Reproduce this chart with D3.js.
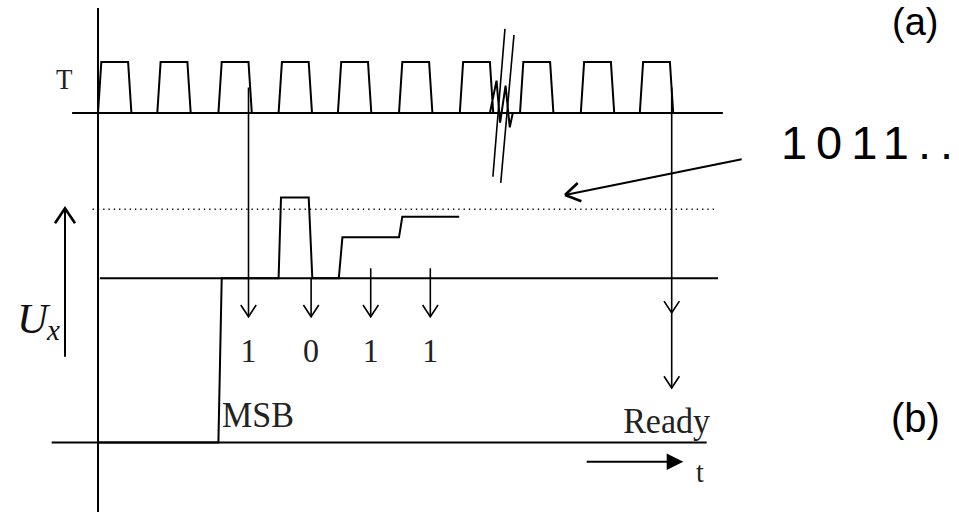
<!DOCTYPE html>
<html>
<head>
<meta charset="UTF-8">
<title>SAR timing</title>
<script src="https://cdn.jsdelivr.net/npm/d3@7/dist/d3.min.js"></script>
<style>
  body { margin: 0; background: #fff; }
  svg { display: block; }
</style>
</head>
<body>
<svg width="959" height="512"></svg>
<script>
// clock pulse start times (in clock periods) and shape of one pulse
var clockStarts = [0, 0.985, 2, 3, 3.985, 5, 6.01, 7.01, 8.02, 9];
var pulseShape = [[0, 0], [0.055, 1], [0.5, 1], [0.555, 0]];
// squiggle at the time break
var breakWave = [[6.51, 0], [6.62, 0.635], [6.68, -0.19], [6.77, 0.535], [6.84, -0.28], [6.89, 0]];
var breakSlashes = [[[6.56, -1.25], [6.76, 1.65]], [[6.69, -1.37], [6.91, 1.53]]];

// comparator / DAC output (t, U)
var dacTrace = [[0, -2.38], [2.0, -2.38], [2.055, 0], [3.0, 0], [3.04, 1.17], [3.5, 1.17], [3.56, 0],
                [4.0, 0], [4.06, 0.594], [5.0, 0.594], [5.055, 0.893], [6.0, 0.893]];
var uxLevel = 1;
var bitTimes = [2.5, 3.54, 4.53, 5.52];
var bitLabels = ["1", "0", "1", "1"];
var arrowFrom = [null, 0, 0.145, 0.145];   // null = starts at clock edge
var readyTime = 9.53;

var svg = d3.select("svg");
var g = svg.append("g");

var x = d3.scaleLinear().domain([0, 1]).range([98, 158.2]);
var yc = d3.scaleLinear().domain([0, 1]).range([113, 62]);      // clock
var yu = d3.scaleLinear().domain([0, 1]).range([278.3, 209.3]); // Ux panel

var lineC = d3.line().x(function(d){ return x(d[0]); }).y(function(d){ return yc(d[1]); });
var lineU = d3.line().x(function(d){ return x(d[0]); }).y(function(d){ return yu(d[1]); });

function seg(x1, y1, x2, y2, w) {
  return g.append("line").attr("x1", x1).attr("y1", y1).attr("x2", x2).attr("y2", y2)
    .attr("stroke", "#000").attr("stroke-width", w || 2);
}
function vHead(px, py, dir, hw, hh, w) {
  // dir 1 = pointing down, -1 = up
  g.append("path")
    .attr("d", "M" + (px - hw) + "," + (py - dir * hh) + "L" + px + "," + py + "L" + (px + hw) + "," + (py - dir * hh))
    .attr("fill", "none").attr("stroke", "#000").attr("stroke-width", w || 1.6);
}
// serif label, a little taller than wide like the original
function serifText(tx, ty, str, size, anchor) {
  return g.append("text").attr("transform", "translate(" + tx + "," + ty + ") scale(1,1.07)")
    .attr("text-anchor", anchor || "start").text(str)
    .style("font-family", "'Liberation Serif', serif").style("font-size", size + "px").attr("fill", "#222");
}

// main vertical time axis
seg(x(0), 8, x(0), 512, 2);

// clock baseline + waveform
seg(x(-0.43), yc(0), x(10.38), yc(0), 2);
var clockPts = [];
clockStarts.forEach(function(s, i){
  pulseShape.forEach(function(p){ clockPts.push([s + p[0], p[1]]); });
  if (i === 6) breakWave.forEach(function(p){ clockPts.push(p); });
});
clockPts.push([10, 0]);
g.append("path").attr("d", lineC(clockPts)).attr("fill", "none")
  .attr("stroke", "#000").attr("stroke-width", 2).attr("stroke-linejoin", "miter");
breakSlashes.forEach(function(s){
  g.append("path").attr("d", lineC(s)).attr("fill", "none").attr("stroke", "#000").attr("stroke-width", 1.6);
});

serifText(56, 89, "T", 27);

// Ux panel lines
seg(x(-0.09), yu(uxLevel), x(10.28), yu(uxLevel), 1.4).attr("stroke-dasharray", "1.3,4");
seg(x(0.03), yu(0), x(10.3), yu(0), 2);
seg(x(-0.77), yu(-2.38), x(10.11), yu(-2.38), 2);
g.append("path").attr("d", lineU(dacTrace)).attr("fill", "none")
  .attr("stroke", "#000").attr("stroke-width", 2);

// bit sampling arrows
var tipY = yu(-0.557);
bitTimes.forEach(function(t, i){
  var top = arrowFrom[i] === null ? yc(0.5) : yu(arrowFrom[i]);
  seg(x(t), top, x(t), tipY, 1.6);
  vHead(x(t), tipY, 1, 7.7, 11.7);
  serifText(x(t), 361.5, bitLabels[i], 32, "middle");
});

// ready arrow
seg(x(readyTime), yc(0.5), x(readyTime), yu(-1.59), 1.6);
vHead(x(readyTime), yu(-0.5), 1, 7.7, 11.7);
vHead(x(readyTime), yu(-1.59), 1, 7.7, 11.7);

serifText(222, 426.5, "MSB", 34);
serifText(710, 433.3, "Ready", 34, "end");

// Ux axis arrow
seg(65, 356.7, 65, 209, 2);
vHead(65, 208.3, -1, 10, 15, 2.6);
var ux = g.append("text").attr("x", 17).attr("y", 333)
  .style("font-family", "'Liberation Serif', serif").style("font-style", "italic").attr("fill", "#111");
ux.append("tspan").text("U").style("font-size", "43px");
ux.append("tspan").attr("dy", 7).attr("dx", -1).text("x").style("font-size", "29px");

// t arrow
seg(586.7, 461.7, 668, 461.7, 2);
g.append("path").attr("d", "M666.7,453.4L683.3,461.7L666.7,470Z").attr("fill", "#000");
serifText(696, 481.5, "t", 28);

// "1011.." callout arrow pointing to Ux level
var ax1 = 741.7, ay1 = 159.3, ax2 = 565, ay2 = 195;
seg(ax1, ay1, ax2, ay2, 2);
var ang = Math.atan2(ay1 - ay2, ax1 - ax2);
[-0.56, 0.56].forEach(function(da){
  seg(ax2, ay2, ax2 + 17.5 * Math.cos(ang + da), ay2 + 17.5 * Math.sin(ang + da), 2.6);
});
g.append("text").attr("x", 781).attr("y", 159).text("1011..")
  .attr("textLength", 172).attr("lengthAdjust", "spacing")
  .style("font-family", "'Liberation Sans', Arial, sans-serif").style("font-size", "47px").attr("fill", "#000");

// panel labels
g.append("text").attr("x", 892).attr("y", 35).text("(a)")
  .style("font-family", "'Liberation Sans', Arial, sans-serif").style("font-size", "38px").attr("fill", "#000");
g.append("text").attr("x", 891).attr("y", 431.6).text("(b)")
  .style("font-family", "'Liberation Sans', Arial, sans-serif").style("font-size", "40px").attr("fill", "#000");
</script>
</body>
</html>
